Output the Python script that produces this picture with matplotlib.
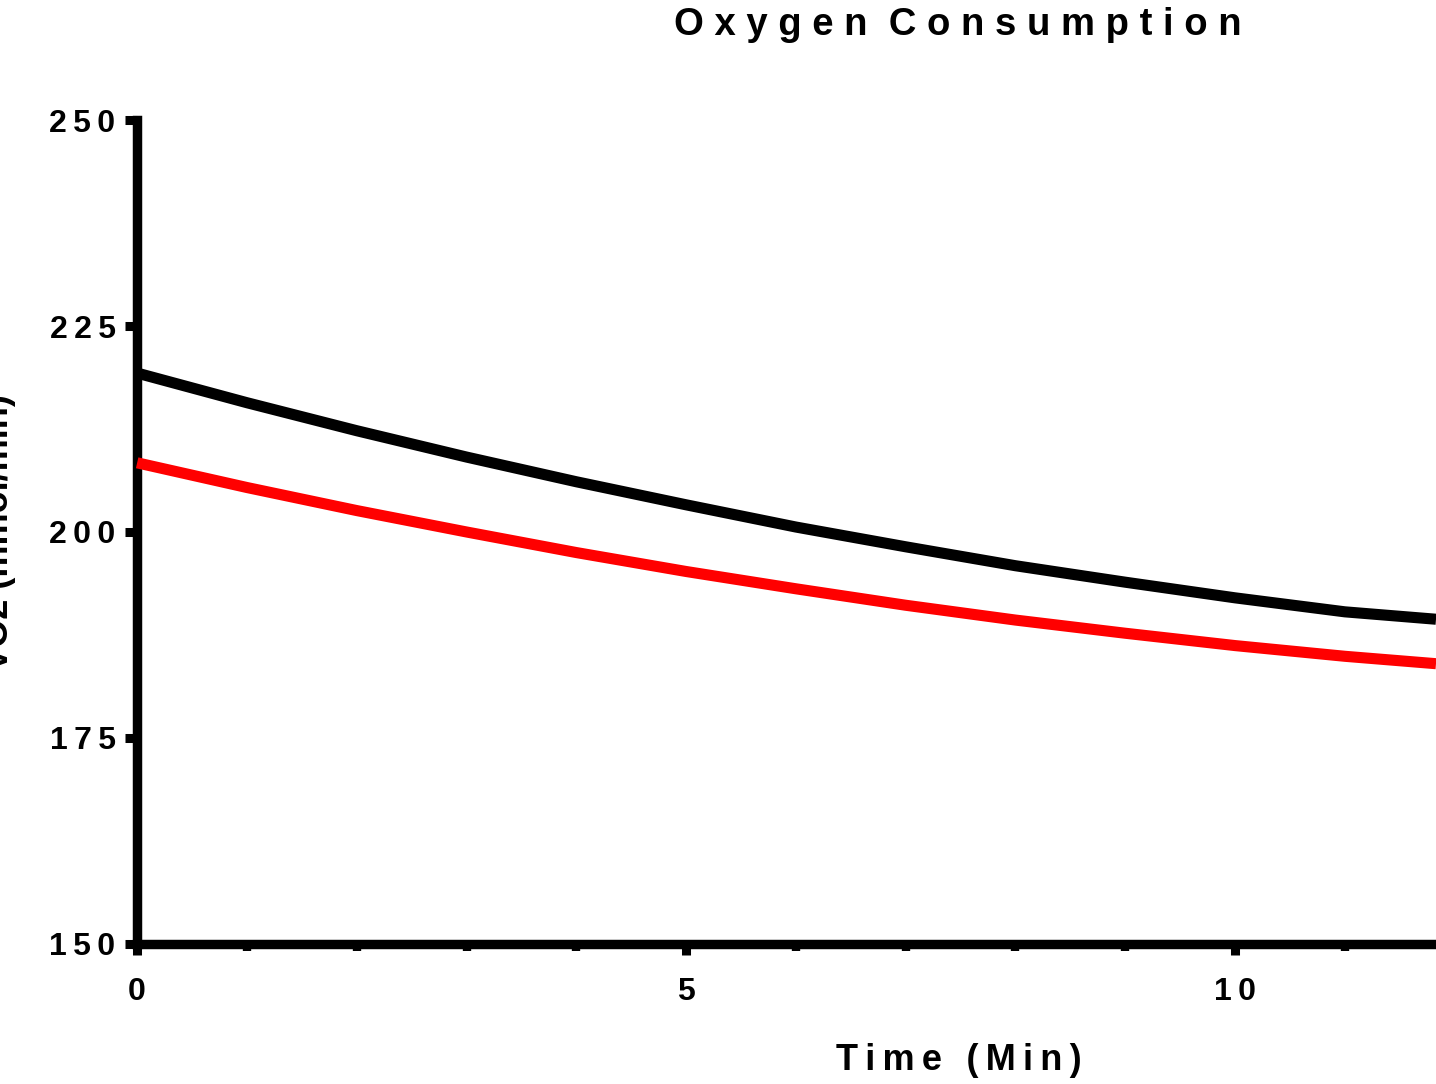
import matplotlib
matplotlib.use("Agg")
import matplotlib.pyplot as plt
from matplotlib.ticker import MultipleLocator

plt.rcParams["font.family"] = ["Liberation Sans", "DejaVu Sans"]
plt.rcParams["font.weight"] = "bold"

# time points (min)
time = [0, 1, 2, 3, 4, 5, 6, 7, 8, 9, 10, 11, 11.83]

# oxygen consumption, two groups
vo2_black = [219.3, 215.7, 212.3, 209.1, 206.1, 203.3, 200.6, 198.2, 195.9, 193.9, 192.0, 190.3, 189.4]
vo2_red = [208.4, 205.4, 202.6, 200.0, 197.5, 195.2, 193.1, 191.1, 189.3, 187.7, 186.2, 184.9, 184.0]

y_ticks = [150, 175, 200, 225, 250]
x_ticks = [0, 5, 10]

THIN = "\u2009"


def spaced(s, sep=" "):
    # wide letter spacing, Prism style
    return sep.join(s)


fig = plt.figure(figsize=(14.36, 10.84), dpi=100)
ax = fig.add_axes([0.0955, 0.1295, 0.9045, 0.7595])

ax.plot(time, vo2_black, color="black", lw=8, solid_capstyle="butt", zorder=3)
ax.plot(time, vo2_red, color="#ff0000", lw=8, solid_capstyle="butt", zorder=3, clip_on=False)

ax.set_xlim(0, 11.83)
ax.set_ylim(150, 250)

for side in ["top", "right"]:
    ax.spines[side].set_visible(False)
for side in ["left", "bottom"]:
    ax.spines[side].set_linewidth(6.8)
    ax.spines[side].set_capstyle("projecting")

ax.set_yticks(y_ticks)
ax.set_yticklabels([spaced(str(v), THIN) for v in y_ticks])
ax.set_xticks(x_ticks)
ax.set_xticklabels([spaced(str(v), THIN) for v in x_ticks])
ax.xaxis.set_minor_locator(MultipleLocator(1))

ax.tick_params(axis="y", which="major", length=8.5, width=6.5, pad=7, labelsize=23)
ax.tick_params(axis="x", which="major", length=8, width=6.5, pad=16, labelsize=23)
ax.tick_params(axis="x", which="minor", length=4.7, width=6)

fig.text(0.667, 0.977, spaced("Oxygen") + "  " + spaced("Consumption"),
         ha="center", va="center", fontsize=27.5, fontweight="bold")
fig.text(0.668, 0.022, spaced("Time", THIN) + THIN + " " + THIN + spaced("(Min)", THIN),
         ha="center", va="center", fontsize=26, fontweight="bold")
fig.text(0.011, 0.509, "VO2 (mmol/min)", rotation=90,
         ha="right", va="center", fontsize=26, fontweight="bold")

fig.savefig("out.png", dpi=100)
